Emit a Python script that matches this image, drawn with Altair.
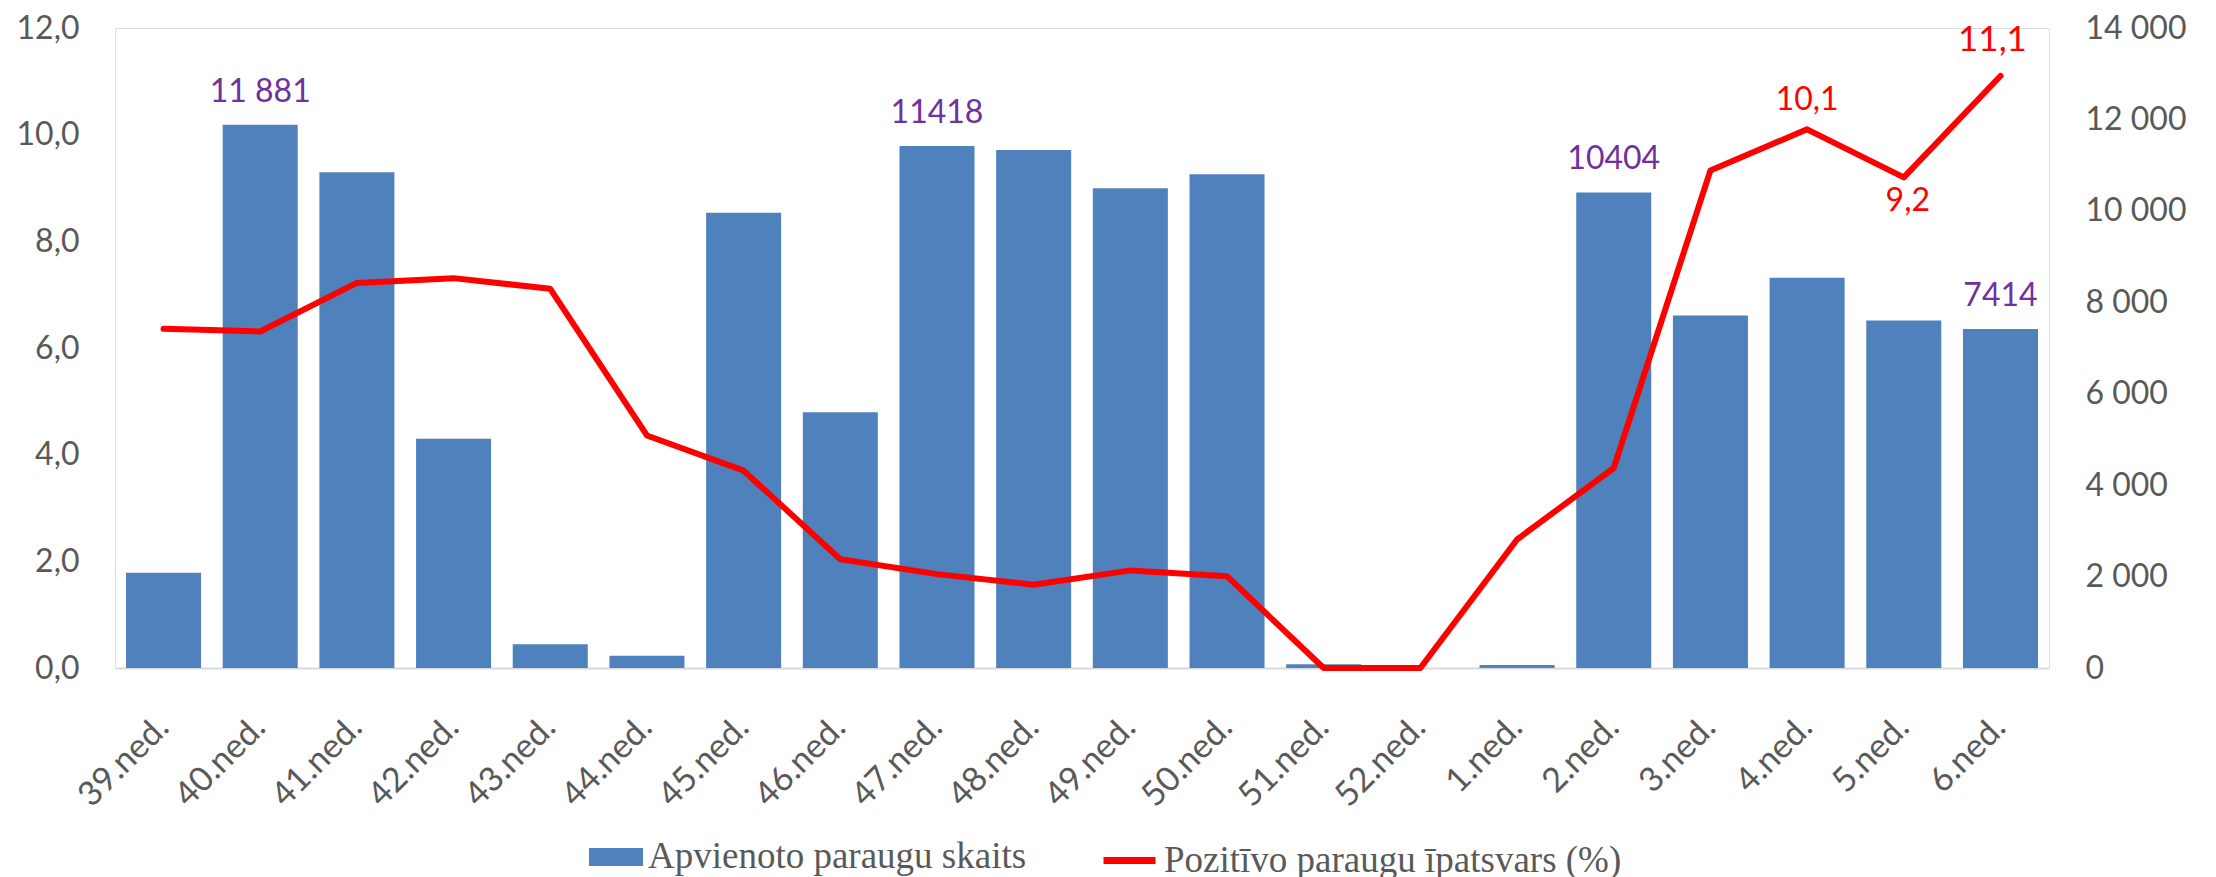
import altair as alt
import pandas as pd

weeks = ["39.ned.", "40.ned.", "41.ned.", "42.ned.", "43.ned.", "44.ned.", "45.ned.",
         "46.ned.", "47.ned.", "48.ned.", "49.ned.", "50.ned.", "51.ned.", "52.ned.",
         "1.ned.", "2.ned.", "3.ned.", "4.ned.", "5.ned.", "6.ned."]
samples = [2081, 11881, 10844, 5016, 522, 268, 9959, 5595, 11418, 11329, 10496, 10801,
           80, 0, 65, 10404, 7713, 8539, 7604, 7414]
positive = [6.36, 6.31, 7.22, 7.31, 7.11, 4.36, 3.70, 2.04, 1.76, 1.56, 1.83, 1.72,
            0.0, 0.0, 2.41, 3.75, 9.33, 10.1, 9.2, 11.1]
sample_labels = ["", "11 881", "", "", "", "", "", "", "11418", "", "", "", "", "", "",
                 "10404", "", "", "", "7414"]
pct_labels = ["", "", "", "", "", "", "", "", "", "", "", "", "", "", "", "", "",
              "10,1", "9,2", "11,1"]

BAR_NAME = "Apvienoto paraugu skaits"
LINE_NAME = "Pozitīvo paraugu īpatsvars (%)"

df = pd.DataFrame({
    "week": weeks,
    "n": samples,
    "pct": positive,
    "nlab": sample_labels,
    "plab": pct_labels,
    "s1": [BAR_NAME] * len(weeks),
    "s2": [LINE_NAME] * len(weeks),
})

FONT = "Lato"
GRAY = "#595959"

x = alt.X("week:N", sort=weeks, title=None,
          scale=alt.Scale(paddingInner=0.224, paddingOuter=0.114),
          axis=alt.Axis(labelAngle=-45, labelAlign="right", labelBaseline="middle",
                        labelFont=FONT, labelFontSize=34, labelColor=GRAY,
                        labelPadding=54, ticks=False, tickSize=0,
                        domainColor="#D9D9D9", domainWidth=2))

yr = alt.Y("n:Q", title=None, scale=alt.Scale(domain=[0, 14000], nice=False),
           axis=alt.Axis(orient="right", values=list(range(0, 14001, 2000)),
                         labelExpr="replace(format(datum.value, ','), regexp(',', 'g'), ' ')",
                         labelFont=FONT, labelFontSize=32, labelColor=GRAY,
                         labelPadding=36, ticks=False, tickSize=0, domain=False,
                         grid=False))
yl = alt.Y("pct:Q", title=None, scale=alt.Scale(domain=[0, 12], nice=False),
           axis=alt.Axis(orient="left", values=list(range(0, 13, 2)),
                         labelExpr="replace(format(datum.value, '.1f'), '.', ',')",
                         labelFont=FONT, labelFontSize=32, labelColor=GRAY,
                         labelPadding=36, ticks=False, tickSize=0, domain=False,
                         grid=False))

base = alt.Chart(df)

bars = base.mark_bar(cornerRadius=0).encode(
    x=x, y=yr,
    color=alt.Color("s1:N", scale=alt.Scale(domain=[BAR_NAME], range=["#4F81BD"]),
                    legend=alt.Legend(title=None, orient="none", legendX=474, legendY=802,
                                      symbolType="M-1,-0.33H1V0.33H-1Z", symbolSize=2916,
                                      symbolStrokeWidth=0, labelFont="Liberation Serif",
                                      labelFontSize=37, labelColor=GRAY, labelOffset=5,
                                      padding=0, symbolOffset=0, labelLimit=0)))
bar_text = base.mark_text(font=FONT, fontSize=32, color="#7030A0", baseline="alphabetic",
                          dy=-23).encode(x=x, y=yr, text="nlab:N").transform_filter(
    "datum.nlab != ''")

line = base.mark_line(strokeWidth=6, strokeJoin="round", strokeCap="round").encode(
    x=x, y=yl,
    stroke=alt.Stroke("s2:N", scale=alt.Scale(domain=[LINE_NAME], range=["#FF0000"]),
                      legend=alt.Legend(title=None, orient="none", legendX=985, legendY=803,
                                        symbolType="stroke", symbolSize=2704,
                                        symbolStrokeWidth=7, labelFont="Liberation Serif",
                                        labelFontSize=37, labelColor=GRAY, labelOffset=5,
                                        padding=0, symbolOffset=0, labelLimit=0)))
lab_above = base.mark_text(font=FONT, fontSize=32, color="#FF0000", baseline="alphabetic",
                           dy=-19).encode(x=x, y=yl, text="plab:N").transform_filter(
    "datum.plab != '' && datum.week == '4.ned.'")
lab_below = base.mark_text(font=FONT, fontSize=32, color="#FF0000", baseline="top",
                           dy=9, dx=4).encode(x=x, y=yl, text="plab:N").transform_filter(
    "datum.plab != '' && datum.week == '5.ned.'")
lab_big = base.mark_text(font=FONT, fontSize=35, color="#FF0000", baseline="alphabetic",
                         dy=-25, dx=-8).encode(x=x, y=yl, text="plab:N").transform_filter(
    "datum.plab != '' && datum.week == '6.ned.'")

left = alt.layer(bars, bar_text)
right = alt.layer(line, lab_above, lab_below, lab_big)

chart = alt.layer(left, right).resolve_scale(y="independent").properties(
    width=1934, height=640,
    autosize=alt.AutoSizeParams(type="none"),
    padding={"left": 107, "top": 20, "right": 150, "bottom": 210},
).configure_view(strokeWidth=0).configure(background="white")

chart.save("out.html", embed_options={"renderer": "svg", "actions": False})
